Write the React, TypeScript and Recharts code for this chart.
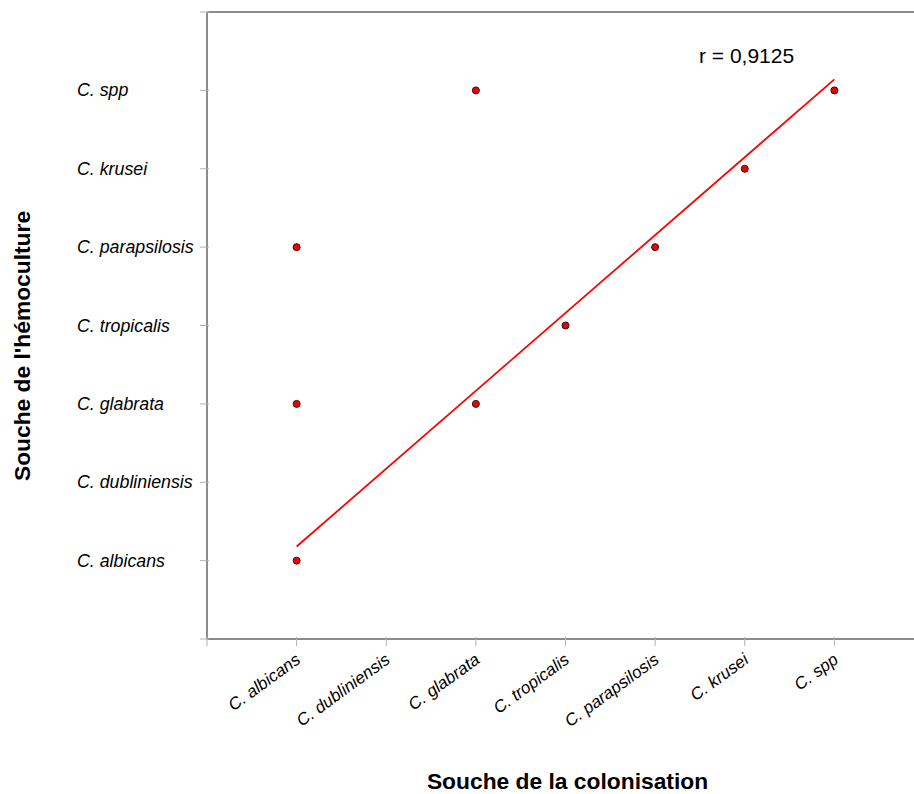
import {
  ScatterChart,
  Scatter,
  XAxis,
  YAxis,
  ReferenceLine,
  ReferenceDot
} from 'recharts';

const especes = [
  'C. albicans',
  'C. dubliniensis',
  'C. glabrata',
  'C. tropicalis',
  'C. parapsilosis',
  'C. krusei',
  'C. spp'
];

// index (1..7) of the species in colonisation / hemoculture
const colonisation = [1, 1, 1, 3, 3, 4, 5, 6, 7];
const hemoculture = [1, 3, 5, 7, 3, 4, 5, 6, 7];

// regression line
const trendX = [1, 7];
const trendY = [1.18, 7.14];

const coefficient = 'r = 0,9125';
const axisTicks = [0, 1, 2, 3, 4, 5, 6, 7, 8];

const points = colonisation.map((c, i) => ({ x: c, y: hemoculture[i] }));

const FONT = '"Liberation Sans", Arial, sans-serif';
const AXIS = '#8c8c8c';
const TICK = '#b0b0b0';

function XTick({ x, y, payload }: any) {
  const name = especes[payload.value - 1];
  const ax = x + 5;
  const ay = y + 21;
  return (
    <g>
      <line x1={x} y1={y - 4} x2={x} y2={y + 5} stroke={TICK} strokeWidth={1} />
      {name && (
        <text
          x={ax}
          y={ay}
          textAnchor="end"
          transform={`rotate(-36, ${ax}, ${ay})`}
          fontFamily={FONT}
          fontStyle="italic"
          fontSize={17}
          fill="#000"
        >
          {name}
        </text>
      )}
    </g>
  );
}

function YTick({ x, y, payload }: any) {
  const name = especes[payload.value - 1];
  return (
    <g>
      <line x1={x - 5} y1={y} x2={x + 4} y2={y} stroke={TICK} strokeWidth={1} />
      {name && (
        <text
          x={77}
          y={y + 6}
          textAnchor="start"
          fontFamily={FONT}
          fontStyle="italic"
          fontSize={17.8}
          fill="#000"
        >
          {name}
        </text>
      )}
    </g>
  );
}

function Point({ cx, cy }: any) {
  return <circle cx={cx} cy={cy} r={3.5} fill="#f00000" stroke="#2a1010" strokeWidth={1} />;
}

export default function App() {
  return (
    <div style={{ position: 'absolute', left: 0, top: 0, width: 914, height: 794, overflow: 'hidden', background: '#fff' }}>
      <ScatterChart width={930} height={794} margin={{ top: 12, right: 6, bottom: 95, left: 0 }}>
        <XAxis
          type="number"
          dataKey="x"
          domain={[0, 8]}
          ticks={axisTicks}
          interval={0}
          height={60}
          stroke={AXIS}
          strokeWidth={2}
          tickLine={false}
          tickSize={0}
          tick={<XTick />}
          label={({ viewBox }: any) => (
            <text
              x={viewBox.x + viewBox.width / 2 + 2}
              y={viewBox.y + 150}
              textAnchor="middle"
              fontFamily={FONT}
              fontWeight="bold"
              fontSize={22.8}
              fill="#000"
            >
              Souche de la colonisation
            </text>
          )}
        />
        <YAxis
          type="number"
          dataKey="y"
          domain={[0, 8]}
          ticks={axisTicks}
          interval={0}
          width={207}
          stroke={AXIS}
          strokeWidth={2}
          tickLine={false}
          tickSize={0}
          tick={<YTick />}
          label={({ viewBox }: any) => (
            <text
              x={30}
              y={viewBox.y + 334}
              textAnchor="middle"
              transform={`rotate(-90, 30, ${viewBox.y + 334})`}
              fontFamily={FONT}
              fontWeight="bold"
              fontSize={22.8}
              fill="#000"
            >
              Souche de l'hémoculture
            </text>
          )}
        />
        <ReferenceLine y={8} stroke={AXIS} strokeWidth={2} />
        <ReferenceLine
          segment={[
            { x: trendX[0], y: trendY[0] },
            { x: trendX[1], y: trendY[1] }
          ]}
          stroke="#ff0000"
          strokeWidth={1.8}
        />
        <ReferenceDot
          x={6.02}
          y={7.45}
          r={0}
          fill="none"
          stroke="none"
          label={{ value: coefficient, position: 'center', fontFamily: FONT, fontSize: 21, fill: '#000' }}
        />
        <Scatter data={points} shape={<Point />} isAnimationActive={false} />
      </ScatterChart>
    </div>
  );
}
